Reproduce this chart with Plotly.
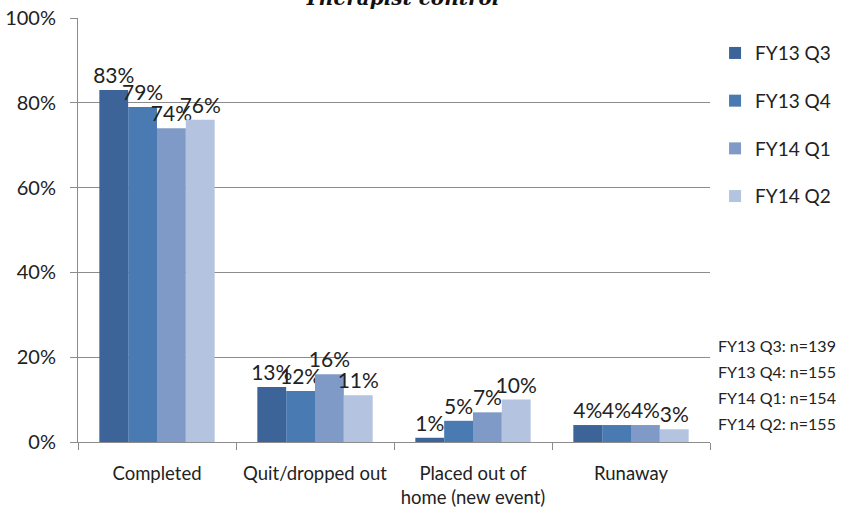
import plotly.graph_objects as go

categories = ["Completed", "Quit/dropped out", "Placed out of<br>home (new event)", "Runaway"]
series_names = ["FY13 Q3", "FY13 Q4", "FY14 Q1", "FY14 Q2"]
fy13q3 = [83, 13, 1, 4]
fy13q4 = [79, 12, 5, 4]
fy14q1 = [74, 16, 7, 4]
fy14q2 = [76, 11, 10, 3]
series_values = [fy13q3, fy13q4, fy14q1, fy14q2]
colors = ["#3d6498", "#4a7ab2", "#7f9ac7", "#b4c3df"]
y_ticks = [0, 20, 40, 60, 80, 100]
y_tick_labels = ["0%", "20%", "40%", "60%", "80%", "100%"]
n_notes = ["FY13 Q3: n=139", "FY13 Q4: n=155", "FY14 Q1: n=154", "FY14 Q2: n=155"]

FONT = "Lato"

fig = go.Figure()
for i, (name, vals, col) in enumerate(zip(series_names, series_values, colors)):
    fig.add_trace(go.Bar(
        x=categories, y=vals, name=name, marker=dict(color=col, line=dict(width=0)),
        text=[f"{v}%" for v in vals], textposition="outside", constraintext="none",
        textfont=dict(family=FONT, size=21, color="#222222"),
        cliponaxis=False, legendgroup=name,
    ))

fig.update_layout(
    width=850, height=520,
    margin=dict(l=78, r=140, t=18, b=78, autoexpand=False),
    paper_bgcolor="white", plot_bgcolor="white",
    barmode="group", bargap=0.27, bargroupgap=0,
    font=dict(family=FONT, color="#222222"),
    legend=dict(
        x=1.008, y=0.962, xanchor="left", yanchor="top",
        font=dict(family=FONT, size=19, color="#222222"),
        tracegroupgap=20, itemwidth=30,
    ),
    showlegend=True,
)
fig.update_xaxes(
    automargin=False,
    showline=True, linecolor="#8c8c8c", linewidth=1,
    ticks="outside", tickson="boundaries", ticklen=7, tickcolor="#8c8c8c",
    tickfont=dict(family=FONT, size=18.5, color="#222222"),
    ticklabelstandoff=15,
    showgrid=False,
)
fig.update_yaxes(
    automargin=False,
    range=[0, 100], tickvals=y_ticks, ticktext=y_tick_labels,
    showline=True, linecolor="#8c8c8c", linewidth=1,
    ticks="outside", ticklen=7, tickcolor="#8c8c8c",
    showgrid=True, gridcolor="#8c8c8c", gridwidth=1,
    tickfont=dict(family=FONT, size=20, color="#222222"),
    ticklabelstandoff=10,
    zeroline=False,
)
fig.add_annotation(
    text="<b><i>Therapist control</i></b>", xref="paper", yref="paper",
    x=0.513, y=1.0, yshift=6, yanchor="bottom", showarrow=False,
    font=dict(family="DejaVu Serif", size=20, color="#111111"),
)
for k, note in enumerate(n_notes):
    fig.add_annotation(
        text=note, xref="paper", yref="paper",
        x=1.0, y=0.0, xshift=6, yshift=97 - 26 * k, xanchor="left", yanchor="middle",
        showarrow=False, font=dict(family=FONT, size=16, color="#222222"),
    )

fig.write_html(
    "out.html",
    config={"displayModeBar": False},
    post_script="document.body.style.margin='0';",
)
